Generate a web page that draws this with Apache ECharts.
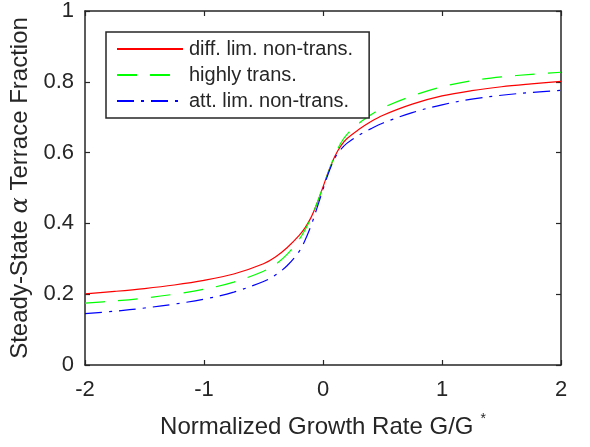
<!DOCTYPE html>
<html>
<head>
<meta charset="utf-8">
<script src="https://cdn.jsdelivr.net/npm/echarts@6/dist/echarts.min.js"></script>
<style>
  html, body { margin: 0; padding: 0; background: #fff; }
  #chart { width: 590px; height: 447px; }
</style>
</head>
<body>
<div id="chart"></div>
<script>
// Normalized growth rate G/G* sample points
const growthRate = [-2, -1.75, -1.5, -1.25, -1, -0.75, -0.5, -0.4, -0.3, -0.2, -0.15, -0.1, -0.05,
  0, 0.05, 0.1, 0.15, 0.2, 0.3, 0.4, 0.5, 0.75, 1, 1.25, 1.5, 1.75, 2];

// Steady-state alpha terrace fraction for each model
const diffLimNonTrans = [0.201, 0.208, 0.216, 0.226, 0.239, 0.257, 0.286, 0.305, 0.332, 0.366, 0.388, 0.417, 0.457,
  0.503, 0.550, 0.590, 0.619, 0.639, 0.665, 0.687, 0.705, 0.737, 0.760, 0.775, 0.786, 0.794, 0.801];
const highlyTrans = [0.175, 0.181, 0.189, 0.200, 0.214, 0.234, 0.265, 0.284, 0.313, 0.355, 0.382, 0.416, 0.457,
  0.503, 0.549, 0.593, 0.627, 0.651, 0.682, 0.706, 0.726, 0.760, 0.786, 0.803, 0.814, 0.821, 0.827];
const attLimNonTrans = [0.145, 0.152, 0.161, 0.172, 0.186, 0.206, 0.236, 0.254, 0.281, 0.321, 0.353, 0.394, 0.444,
  0.496, 0.546, 0.585, 0.609, 0.626, 0.649, 0.667, 0.683, 0.713, 0.735, 0.751, 0.762, 0.770, 0.776];

const seriesNames = ['diff. lim. non-trans.', 'highly trans.', 'att. lim. non-trans.'];

const xTicks = { min: -2, max: 2, interval: 1 };
const yTicks = { min: 0, max: 1, interval: 0.2 };

const FONT = '"Liberation Sans", Arial, Helvetica, sans-serif';
const AXIS_COLOR = '#262626';

function pairs(ys) {
  return growthRate.map((x, i) => [x, ys[i]]);
}

function boxAxis(extra) {
  return Object.assign({
    type: 'value',
    axisLine: { show: true, onZero: false, lineStyle: { color: AXIS_COLOR, width: 1.5 } },
    axisTick: { show: true, inside: true, length: 5, lineStyle: { color: AXIS_COLOR, width: 1.2 } },
    splitLine: { show: false }
  }, extra);
}

const chart = echarts.init(document.getElementById('chart'), null, { renderer: 'canvas' });

chart.setOption({
  animation: false,
  backgroundColor: '#ffffff',
  textStyle: { fontFamily: FONT },
  grid: { left: 85, right: 29, top: 9, bottom: 80, containLabel: false },
  legend: {
    orient: 'vertical',
    left: 106,
    top: 32,
    padding: [7, 16, 7, 10],
    backgroundColor: '#ffffff',
    borderColor: AXIS_COLOR,
    borderWidth: 1.5,
    borderRadius: 0,
    itemWidth: 66,
    itemHeight: 14,
    itemGap: 6,
    itemStyle: { opacity: 0 },
    textStyle: { fontFamily: FONT, fontSize: 20, color: '#262626', lineHeight: 20, padding: [0, 0, 0, 1] },
    data: seriesNames
  },
  xAxis: [
    boxAxis({
      min: xTicks.min, max: xTicks.max, interval: xTicks.interval,
      position: 'bottom',
      axisLabel: { show: true, margin: 14, fontSize: 22, color: '#262626', fontFamily: FONT },
      name: 'Normalized Growth Rate G/G{sup|*}',
      nameLocation: 'middle',
      nameGap: 47,
      nameTextStyle: {
        fontSize: 24, color: '#262626', fontFamily: FONT, lineHeight: 30,
        rich: { sup: { fontSize: 14, color: '#262626', verticalAlign: 'top', lineHeight: 24, padding: [0, 0, 6, 7] } }
      }
    }),
    boxAxis({
      min: xTicks.min, max: xTicks.max, interval: xTicks.interval,
      position: 'top',
      axisLabel: { show: false }
    })
  ],
  yAxis: [
    boxAxis({
      min: yTicks.min, max: yTicks.max, interval: yTicks.interval,
      position: 'left',
      axisLabel: { show: true, margin: 11, fontSize: 22, color: '#262626', fontFamily: FONT },
      name: 'Steady-State {a|α} Terrace Fraction',
      nameLocation: 'middle',
      nameRotate: 90,
      nameGap: 42,
      nameTextStyle: {
        fontSize: 24, color: '#262626', fontFamily: FONT,
        rich: { a: { fontSize: 24, fontStyle: 'italic', fontFamily: '"DejaVu Serif", "Liberation Serif", serif', color: '#262626' } }
      }
    }),
    boxAxis({
      min: yTicks.min, max: yTicks.max, interval: yTicks.interval,
      position: 'right',
      axisLabel: { show: false }
    })
  ],
  series: [
    {
      name: seriesNames[0], type: 'line', xAxisIndex: 0, yAxisIndex: 0,
      data: pairs(diffLimNonTrans), symbol: 'none', smooth: 0.35,
      lineStyle: { color: '#ff0000', width: 1.2, type: 'solid' },
      itemStyle: { color: '#ff0000' }
    },
    {
      name: seriesNames[1], type: 'line', xAxisIndex: 0, yAxisIndex: 0,
      data: pairs(highlyTrans), symbol: 'none', smooth: 0.35,
      lineStyle: { color: '#00ff00', width: 1.2, type: [20, 13] },
      itemStyle: { color: '#00ff00' }
    },
    {
      name: seriesNames[2], type: 'line', xAxisIndex: 0, yAxisIndex: 0,
      data: pairs(attLimNonTrans), symbol: 'none', smooth: 0.35,
      lineStyle: { color: '#0000ff', width: 1.2, type: [17, 7, 3, 7] },
      itemStyle: { color: '#0000ff' }
    }
  ]
});
</script>
</body>
</html>
